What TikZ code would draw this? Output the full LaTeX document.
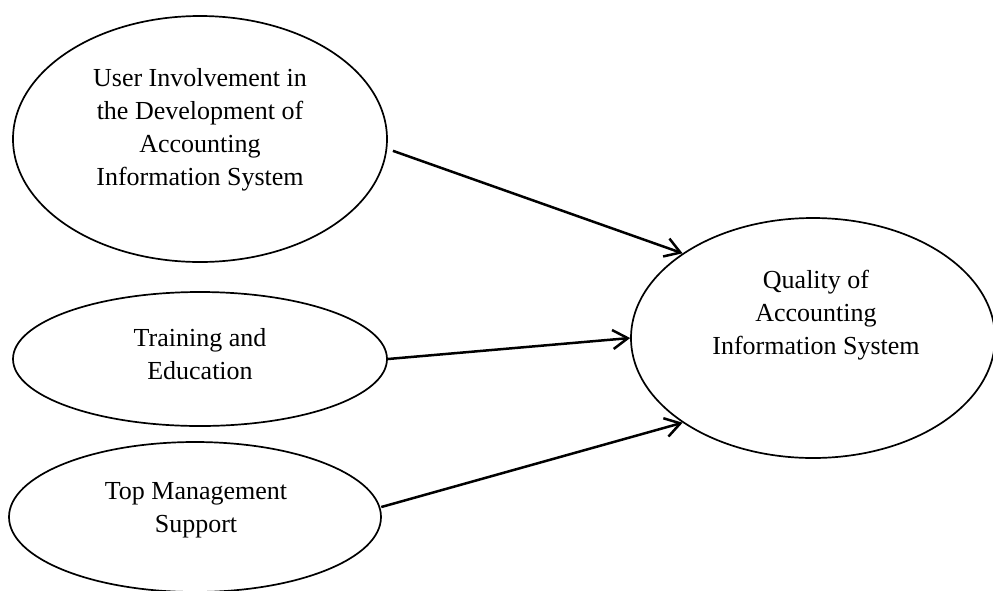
\documentclass[tikz,border=0pt]{standalone}
\usepackage{fontspec}
\setmainfont{Liberation Serif}
\usetikzlibrary{shapes.geometric,arrows.meta}
\begin{document}
\begin{tikzpicture}[x=1pt,y=-1pt,
  oval/.style={draw,ellipse,line width=1.7pt,inner sep=0pt},
  lbl/.style={align=center,font=\fontsize{26}{33}\selectfont,inner sep=0pt},
  link/.style={line width=2.5pt,-{Straight Barb[length=15pt,width=19pt,line width=2.5pt]}}]
\useasboundingbox (0,0) rectangle (993,590);
\node[oval,minimum width=374pt,minimum height=246pt] (e1) at (200,139) {};
\node[oval,minimum width=374pt,minimum height=134pt] (e2) at (200,359) {};
\node[oval,minimum width=372pt,minimum height=150pt] (e3) at (195,517) {};
\node[oval,minimum width=364pt,minimum height=240pt] (e4) at (813,338) {};
\node[lbl] (t1) at (200,130) {User Involvement in\\the Development of\\Accounting\\Information System};
\node[lbl] (t2) at (200,354) {Training and\\Education};
\node[lbl] (t3) at (196,510) {Top Management\\Support};
\node[lbl] (t4) at (816,315) {Quality of\\Accounting\\Information System};
\draw[link,shorten <=6pt] (e1.-3) -- (e4.147);
\draw[link] (e2.east) -- (e4.west);
\draw[link,shorten <=1pt] (e3.3) -- (e4.213);
\end{tikzpicture}
\end{document}
